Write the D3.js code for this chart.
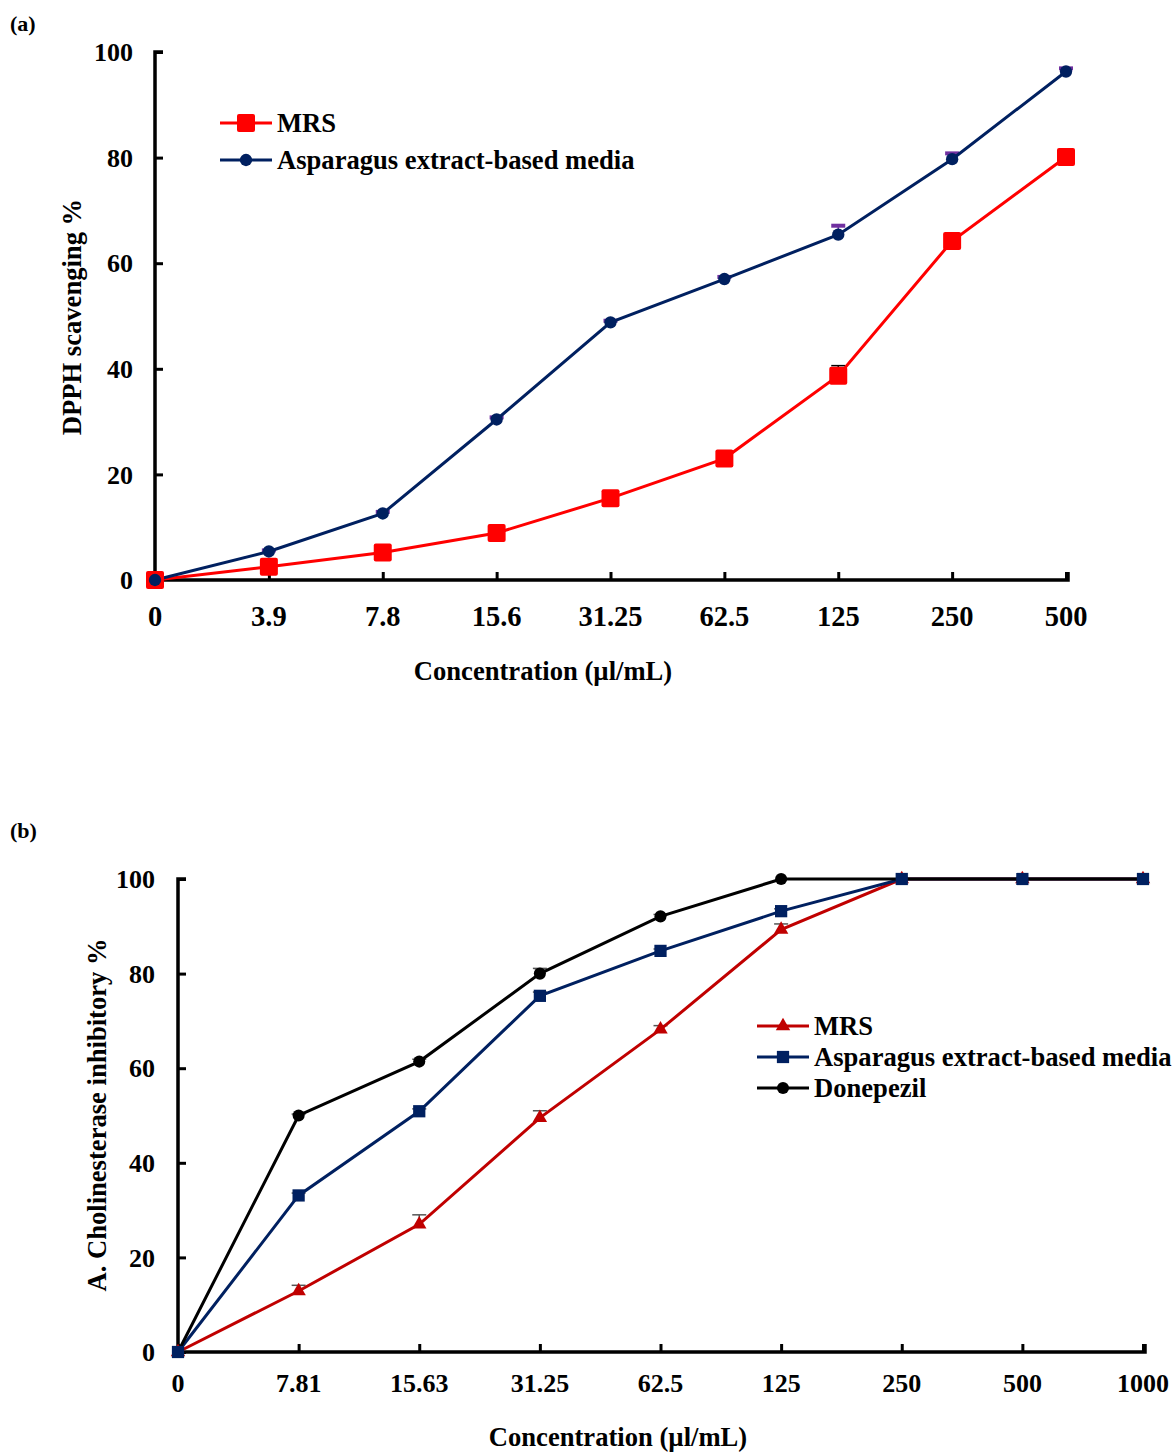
<html>
<head>
<script src="https://d3js.org/d3.v7.min.js"></script>
<style>
  body { margin: 0; background: #fff; }
  svg text { font-family: "Liberation Serif", "Times New Roman", serif; font-weight: bold; fill: #000; }
</style>
</head>
<body>
<svg id="chart" width="1176" height="1452"></svg>
<script>
// ---- panel (a) data ----
const catsA = ["0", "3.9", "7.8", "15.6", "31.25", "62.5", "125", "250", "500"];
const mrsA = [0, 2.5, 5.2, 8.9, 15.5, 23.0, 38.7, 64.2, 80.1];
const mrsErrA = [0, 0.3, 0.3, 0.4, 0.5, 0.5, 1.9, 0.6, 0.5];
const aspA = [0, 5.4, 12.6, 30.4, 48.8, 57.0, 65.4, 79.7, 96.3];
const aspErrA = [0, 0.2, 0.3, 0.4, 0.3, 0.4, 1.7, 1.1, 0.6];
const yTicksA = [0, 20, 40, 60, 80, 100];

// ---- panel (b) data ----
const catsB = ["0", "7.81", "15.63", "31.25", "62.5", "125", "250", "500", "1000"];
const mrsB = [0, 12.9, 27.0, 49.5, 68.2, 89.3, 100, 100, 100];
const mrsErrB = [0, 1.2, 2.0, 1.5, 0.8, 1.2, 0, 0, 0];
const aspB = [0, 33.1, 50.9, 75.3, 84.8, 93.2, 100, 100, 100];
const aspErrB = [0, 0.5, 0.5, 0.8, 0.4, 0.5, 0, 0, 0];
const donB = [0, 50.0, 61.4, 80.0, 92.1, 100, 100, 100, 100];
const donErrB = [0, 0.3, 0.5, 1.1, 0.4, 0, 0, 0, 0];
const yTicksB = [0, 20, 40, 60, 80, 100];

const svg = d3.select("#chart");

function panel(o) {
  const g = svg.append("g");
  const x = d3.scalePoint().domain(o.cats).range([o.x0, o.x1]);
  const y = d3.scaleLinear().domain([0, 100]).range([o.y0, o.y1]);

  // panel letter
  g.append("text").attr("x", 10).attr("y", o.labelY).style("font-size", "22px").text(o.label);

  // axes
  const yAxis = g.append("g").attr("transform", `translate(${o.x0},0)`)
    .call(d3.axisRight(y).tickValues(o.yTicks).tickSize(8).tickFormat(""));
  const xAxis = g.append("g").attr("transform", `translate(0,${o.y0})`)
    .call(d3.axisTop(x).tickSize(8).tickFormat(""));
  [yAxis, xAxis].forEach(a => {
    a.select(".domain").attr("stroke", "#000").attr("stroke-width", 3.5)
    a.selectAll(".tick line").attr("stroke", "#000").attr("stroke-width", 3);
  });
  yAxis.select(".domain").attr("d", `M8,${o.y1}H0V${o.y0}`);
  xAxis.select(".domain").attr("d", `M${o.x0},0H${o.x1 + 2}V-8`);

  // tick labels
  g.selectAll(".yl").data(o.yTicks).join("text")
    .attr("x", o.yLabX).attr("y", d => y(d)).attr("dy", "0.35em")
    .attr("text-anchor", "end").style("font-size", "26px").text(d => d);
  g.selectAll(".xl").data(o.cats).join("text")
    .attr("x", d => x(d)).attr("y", o.xLabY)
    .attr("text-anchor", "middle").style("font-size", o.xFont).text(d => d);

  // axis titles
  g.append("text").attr("x", o.xTitleX).attr("y", o.xTitleY)
    .attr("text-anchor", "middle").style("font-size", "26.6px").text("Concentration (µl/mL)");
  g.append("text").attr("transform", `translate(${o.yTitleX},${o.yTitleY}) rotate(-90)`)
    .attr("text-anchor", "middle").style("font-size", "26.6px").text(o.yTitle);

  const line = d3.line().x((d, i) => x(o.cats[i])).y(d => y(d));

  // lines + error bars first
  o.lineOrder.forEach(k => {
    const s = o.series[k];
    const eb = g.append("g");
    s.values.forEach((v, i) => {
      if (!s.err[i]) return;
      const cx = x(o.cats[i]);
      eb.append("line").attr("x1", cx).attr("x2", cx).attr("y1", y(v)).attr("y2", y(v + s.err[i]))
        .attr("stroke", s.errColor).attr("stroke-width", 1.5);
      eb.append("line").attr("x1", cx - 7).attr("x2", cx + 7).attr("y1", y(v + s.err[i])).attr("y2", y(v + s.err[i]))
        .attr("stroke", s.errColor).attr("stroke-width", s.errW);
    });
    g.append("path").datum(s.values).attr("d", line)
      .attr("fill", "none").attr("stroke", s.color).attr("stroke-width", 3);
  });
  // then markers
  o.markerOrder.forEach(k => {
    const s = o.series[k];
    g.selectAll(null).data(s.values).join("path")
      .attr("transform", (d, i) => `translate(${x(o.cats[i])},${y(d)})`)
      .attr("d", s.marker).attr("fill", s.color);
  });

  // legend
  o.series.forEach((s, i) => {
    const ly = o.legY + i * o.legStep;
    g.append("line").attr("x1", o.legX).attr("x2", o.legX + 52).attr("y1", ly).attr("y2", ly)
      .attr("stroke", s.color).attr("stroke-width", 3);
    g.append("path").attr("transform", `translate(${o.legX + 26},${ly})`).attr("d", s.marker)
      .attr("fill", s.color);
    g.append("text").attr("x", o.legX + 57).attr("y", ly).attr("dy", "0.35em")
      .style("font-size", "26.6px").text(s.name);
  });
}

const sym = (type, size) => d3.symbol().type(type).size(size)();
const roundSquare = "M-7,-9H7Q9,-9 9,-7V7Q9,9 7,9H-7Q-9,9 -9,7V-7Q-9,-9 -7,-9Z";

panel({
  cats: catsA, yTicks: yTicksA, x0: 155, x1: 1066, y0: 580, y1: 52, label: "(a)", labelY: 31,
  yLabX: 133, xLabY: 626, xFont: "28.5px",
  xTitleX: 543, xTitleY: 680, yTitleX: 81, yTitleY: 317, yTitle: "DPPH scavenging %",
  legX: 220, legY: 123, legStep: 37,
  lineOrder: [0, 1], markerOrder: [0, 1],
  series: [
    { name: "MRS", values: mrsA, err: mrsErrA, color: "#ff0000", errColor: "#000", errW: 1.5,
      marker: roundSquare },
    { name: "Asparagus extract-based media", values: aspA, err: aspErrA, color: "#002060", errColor: "#7030a0", errW: 4,
      marker: sym(d3.symbolCircle, 120) }
  ]
});

// squares sit on top of the other markers in the original, Donepezil line on top
panel({
  cats: catsB, yTicks: yTicksB, x0: 178, x1: 1143, y0: 1352, y1: 879, label: "(b)", labelY: 838,
  yLabX: 155, xLabY: 1392, xFont: "26px",
  xTitleX: 618, xTitleY: 1446, yTitleX: 106, yTitleY: 1115, yTitle: "A. Cholinesterase inhibitory %",
  legX: 757, legY: 1026, legStep: 31,
  lineOrder: [0, 1, 2], markerOrder: [0, 2, 1],
  series: [
    { name: "MRS", values: mrsB, err: mrsErrB, color: "#c00000", errColor: "#555", errW: 1.5,
      marker: sym(d3.symbolTriangle, 90) },
    { name: "Asparagus extract-based media", values: aspB, err: aspErrB, color: "#002060", errColor: "#555", errW: 1.5,
      marker: sym(d3.symbolSquare, 150) },
    { name: "Donepezil", values: donB, err: donErrB, color: "#000000", errColor: "#555", errW: 1.5,
      marker: sym(d3.symbolCircle, 115) }
  ]
});
</script>
</body>
</html>
